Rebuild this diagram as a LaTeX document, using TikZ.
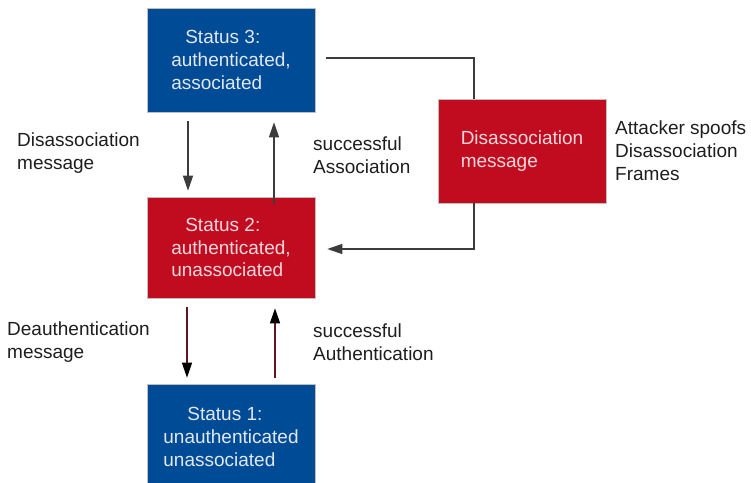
\documentclass[tikz,border=0pt]{standalone}
\usepackage{fontspec}
\setmainfont{Liberation Sans}
\usetikzlibrary{arrows.meta}
\definecolor{boxblue}{RGB}{0,75,150}
\definecolor{boxred}{RGB}{192,12,30}
\definecolor{blueText}{RGB}{225,232,242}
\definecolor{redText}{RGB}{248,215,222}
\definecolor{lineGray}{RGB}{60,60,60}
\definecolor{lineRed}{RGB}{100,20,30}
\definecolor{labelGray}{RGB}{30,30,30}
\tikzset{
  statebox/.style={rectangle, draw=gray!50, line width=0.6pt, minimum width=168pt, inner sep=0pt, align=left,
    font=\fontsize{19}{22.8}\selectfont},
  bluebox/.style={statebox, fill=boxblue, text=blueText},
  redbox/.style={statebox, fill=boxred, text=redText},
  lbl/.style={anchor=west, inner sep=0pt, align=left, text=labelGray, font=\fontsize{19}{22.8}\selectfont},
  conn/.style={draw=lineGray, line width=1.3pt},
  arr/.style={conn, -{Triangle[length=15pt,width=10pt]}},
  arrred/.style={conn, draw=lineRed, -{Triangle[length=15pt,width=10pt,color=black,fill=black]}}
}
\begin{document}
\begin{tikzpicture}[x=1pt,y=-1pt]
\useasboundingbox (0,0) rectangle (751,482);
\fill[white] (0,0) rectangle (751,482);
\node[bluebox, minimum height=104pt] (s3) at (231,60) {\hspace*{14pt}Status 3:\\authenticated,\\associated};
\node[redbox, minimum height=101pt] (s2) at (231,247.5) {\hspace*{14pt}Status 2:\\authenticated,\\unassociated};
\node[bluebox, minimum height=106pt] (s1) at (231,437) {\hspace*{24pt}Status 1:\\unauthenticated\\unassociated};
\node[redbox, minimum height=104pt] (dis) at (522,151) {Disassociation\\message};

\node[lbl] (l1) at (17,153) {Disassociation\\message};
\node[lbl] (l2) at (313,155) {successful\\Association};
\node[lbl] (l3) at (7,342) {Deauthentication\\message};
\node[lbl] (l4) at (313,342) {successful\\Authentication};
\node[lbl] (l5) at (615,151) {Attacker spoofs\\Disassociation\\Frames};

\draw[conn] ([xshift=11pt,yshift=2pt]s3.east) -| ([xshift=-48pt]dis.north);
\draw[arr] ([xshift=-48pt]dis.south) |- ([xshift=12pt,yshift=-1.5pt]s2.east);

\draw[arr] ([xshift=-43pt,yshift=-9pt]s3.south) -- ([xshift=-43pt,yshift=6pt]s2.north);
\draw[arr] ([xshift=43pt,yshift=-7pt]s2.north) -- ([xshift=43pt,yshift=-10pt]s3.south);
\draw[arrred] ([xshift=-44pt,yshift=-9pt]s2.south) -- ([xshift=-44pt,yshift=6pt]s1.north);
\draw[arrred] ([xshift=44pt,yshift=6pt]s1.north) -- ([xshift=44pt,yshift=-10pt]s2.south);
\end{tikzpicture}
\end{document}
